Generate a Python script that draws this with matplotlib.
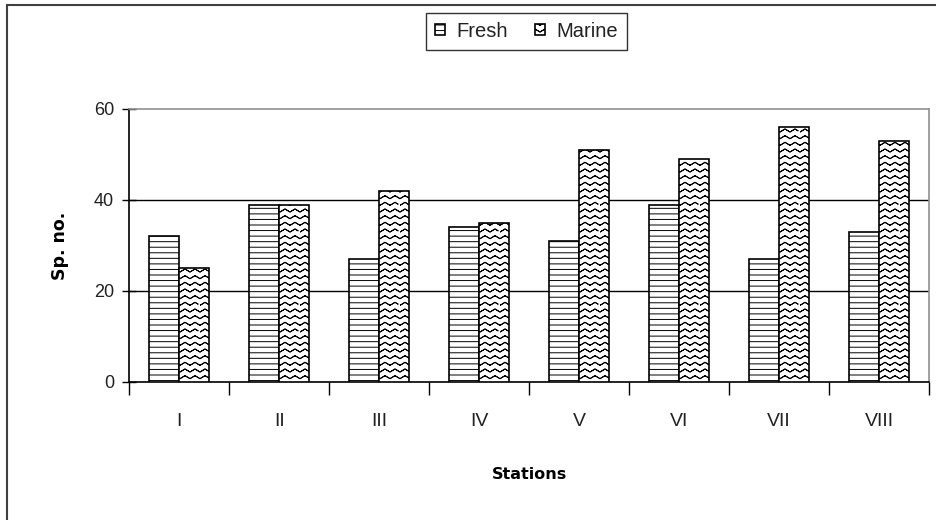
import matplotlib
matplotlib.use('Agg')
import matplotlib.pyplot as plt
import matplotlib.hatch as mhatch
import matplotlib.patches as mpatches
import numpy as np

stations = ['I', 'II', 'III', 'IV', 'V', 'VI', 'VII', 'VIII']
fresh = [32, 39, 27, 34, 31, 39, 27, 33]
marine = [25, 39, 42, 35, 51, 49, 56, 53]


# wavy hatch for the marine bars ('z' in the hatch string).
# each row is traced out and back so the hatch fill has no area
class ZigZagHatch(mhatch.HatchPatternBase):
    def __init__(self, hatch, density):
        self.num_rows = hatch.count('z') * 15
        self.teeth = 10
        self.pts = 2 * self.teeth + 1
        self.num_vertices = self.num_rows * 2 * self.pts

    def set_vertices_and_codes(self, vertices, codes):
        pts = self.pts
        xs = np.linspace(0, 1, pts)
        amp = 0.45 / self.num_rows
        for i in range(self.num_rows):
            y0 = (i + 0.2) / self.num_rows
            ys = y0 + amp * (np.arange(pts) % 2)
            row = np.column_stack([np.r_[xs, xs[::-1]], np.r_[ys, ys[::-1]]])
            s = i * 2 * pts
            vertices[s:s + 2 * pts] = row
            codes[s] = mpatches.Path.MOVETO
            codes[s + 1:s + 2 * pts] = mpatches.Path.LINETO


mhatch._hatch_types.append(ZigZagHatch)

plt.rcParams['hatch.linewidth'] = 0.7
tick_font = 'Liberation Sans'

fig = plt.figure(figsize=(9.36, 5.2), dpi=100)
ax = fig.add_axes([0.138, 0.2654, 0.8545, 0.525])

x = np.arange(len(stations)) + 0.5
w = 0.3
ax.bar(x - w / 2, fresh, w, color='white', edgecolor='black', hatch='---',
       linewidth=1.2, label='Fresh', zorder=3)
ax.bar(x + w / 2, marine, w, color='white', edgecolor='black', hatch='z',
       linewidth=1.2, label='Marine', zorder=3)

ax.set_xlim(0, len(stations))
ax.set_ylim(0, 60)
ax.set_yticks([0, 20, 40, 60])
ax.set_yticklabels(['0', '20', '40', '60'], fontfamily=tick_font, fontsize=13,
                   color='#222222')
ax.tick_params(axis='y', direction='inout', length=10, width=1, pad=6)

ax.set_xticks(np.arange(len(stations) + 1))
ax.set_xticklabels([])
ax.tick_params(axis='x', which='major', direction='out', length=9, width=1)
ax.set_xticks(x, minor=True)
ax.set_xticklabels(stations, minor=True, fontfamily=tick_font, fontsize=14,
                   color='#222222')
ax.tick_params(axis='x', which='minor', length=0, pad=22)

for y in [20, 40]:
    ax.axhline(y, color='black', linewidth=1, zorder=1)

ax.spines['left'].set_linewidth(1.2)
ax.spines['bottom'].set_linewidth(1.2)
ax.spines['top'].set_color('#909090')
ax.spines['right'].set_color('#909090')
ax.spines['top'].set_linewidth(1.2)
ax.spines['right'].set_linewidth(1.2)

ax.set_ylabel('Sp. no.', fontweight='bold', fontsize=12.5, labelpad=18)
ax.set_xlabel('Stations', fontweight='bold', fontsize=11.5, labelpad=27)

leg = fig.legend(loc='center', bbox_to_anchor=(0.5625, 0.94), ncol=2,
                 prop={'family': tick_font, 'size': 14.5}, frameon=True,
                 fancybox=False, handlelength=0.5, handleheight=0.5,
                 handletextpad=0.6, columnspacing=1.3, borderpad=0.45,
                 borderaxespad=0)
leg.get_frame().set_edgecolor('black')
leg.get_frame().set_linewidth(1.0)
for txt in leg.get_texts():
    txt.set_color('#222222')

# outer chart border
fig.patches.append(mpatches.Rectangle((0.0075, -0.1), 1.2, 1.09,
                                      transform=fig.transFigure, fill=False,
                                      edgecolor='#404040', linewidth=1.5))

fig.savefig('out.png', dpi=100)
